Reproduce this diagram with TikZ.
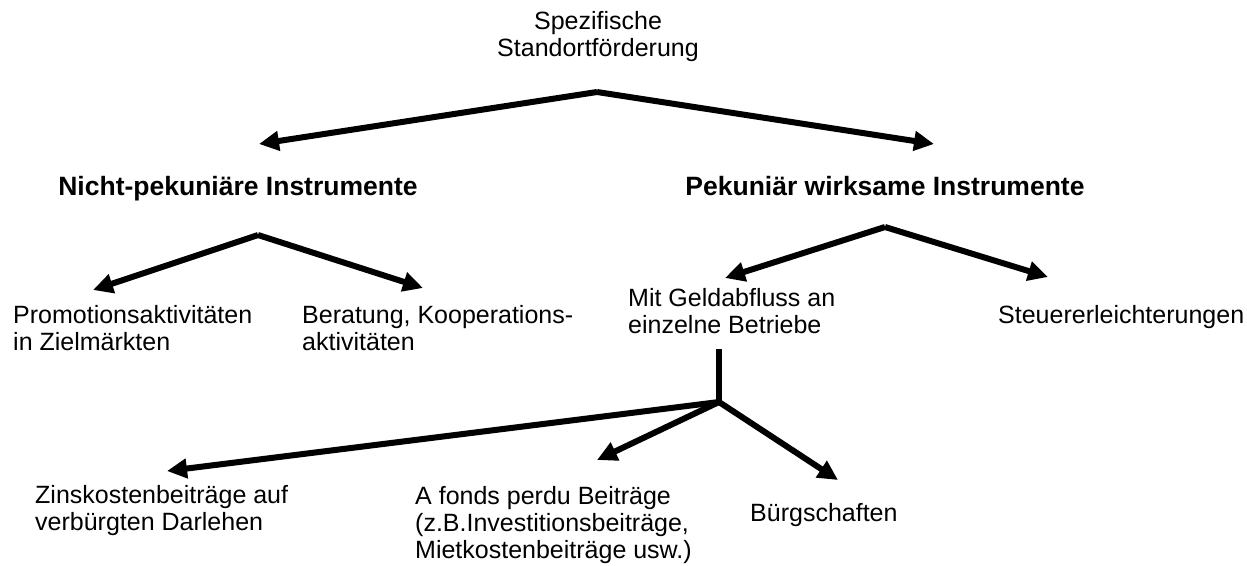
\documentclass[tikz,border=0pt]{standalone}
\usepackage{fontspec}
\setmainfont{Liberation Sans}
\usetikzlibrary{arrows.meta}
\begin{document}
\begin{tikzpicture}[x=1pt,y=-1pt,
  lbl/.style={inner sep=0pt,align=left,anchor=north west,font=\fontsize{25}{27}\selectfont},
  ctr/.style={inner sep=0pt,align=center,anchor=north,font=\fontsize{25}{27}\selectfont},
  hd/.style={inner sep=0pt,anchor=north,font=\fontsize{26.5}{28}\selectfont\bfseries},
  conn/.style={line width=6pt},
  arr/.style={line width=6pt,-{Triangle[length=20pt,width=19pt]}}]
\useasboundingbox (0,0) rectangle (1247,565);
% texts
\node[ctr] (top) at (598,11) {Spezifische\\Standortförderung};
\node[hd] (np) at (238,176) {Nicht-pekuniäre Instrumente};
\node[hd] (pw) at (885,176) {Pekuniär wirksame Instrumente};
\node[lbl] (promo) at (13,305) {Promotionsaktivitäten\\in Zielmärkten};
\node[lbl] (berat) at (302,305) {Beratung, Kooperations-\\aktivitäten};
\node[lbl] (geld) at (628,288) {Mit Geldabfluss an\\einzelne Betriebe};
\node[lbl] (steuer) at (998,305) {Steuererleichterungen};
\node[lbl] (zins) at (35,485) {Zinskostenbeiträge auf\\verbürgten Darlehen};
\node[lbl] (afonds) at (415,486) {A fonds perdu Beiträge\\(z.B.Investitionsbeiträge,\\Mietkostenbeiträge usw.)};
\node[lbl] (buerg) at (750,503) {Bürgschaften};
% junctions and tips
\coordinate (a0) at (597,92);
\coordinate (t1) at (259,144);
\coordinate (t2) at (934,144);
\coordinate (a1) at (258,235);
\coordinate (t3) at (93,290);
\coordinate (t4) at (423,288);
\coordinate (a2) at (885,227);
\coordinate (t5) at (725,278);
\coordinate (t6) at (1048,277);
\coordinate (v0) at (719,349);
\coordinate (a3) at (719,402);
\coordinate (t7) at (167,471);
\coordinate (t8) at (597,460);
\coordinate (t9) at (838,480);
% connectors
\draw[arr] (a0) -- (t1);
\draw[arr] (a0) -- (t2);
\draw[arr] (a1) -- (t3);
\draw[arr] (a1) -- (t4);
\draw[arr] (a2) -- (t5);
\draw[arr] (a2) -- (t6);
\draw[conn] (v0) -- (a3);
\draw[arr] (a3) -- (t7);
\draw[arr] (a3) -- (t8);
\draw[arr] (a3) -- (t9);
\end{tikzpicture}
\end{document}
